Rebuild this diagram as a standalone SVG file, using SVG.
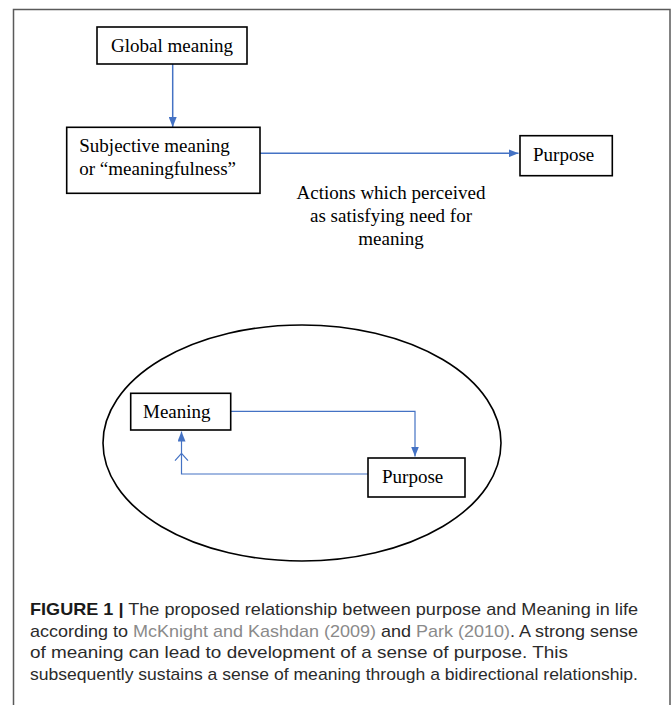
<svg xmlns="http://www.w3.org/2000/svg" width="672" height="705" viewBox="0 0 672 705">
<style>
.box{fill:#fff;stroke:#000;stroke-width:1.6}
.t{font-family:"Liberation Serif","Times New Roman",serif;font-size:19px;fill:#000}
.c{fill:none;stroke:#4472C4;stroke-width:1.5}
.c2{fill:none;stroke:#4472C4;stroke-width:1.2}
.cap{font-family:"Liberation Sans",Arial,sans-serif;font-size:17px;fill:#2b2b2b}
.lnk{fill:#8a8a8a}
</style>
<defs>
<marker id="ah" viewBox="0 0 10 8" refX="10" refY="4" markerWidth="10" markerHeight="8" markerUnits="userSpaceOnUse" orient="auto">
<path d="M0,0 L10,4 L0,8 z" fill="#4472C4"/>
</marker>
</defs>
<rect x="13.5" y="9.5" width="656.5" height="720" fill="#fff" stroke="#5a5a5a" stroke-width="1.5"/>
<g id="connectors">
<line class="c" x1="172.7" y1="64" x2="172.7" y2="127" marker-end="url(#ah)"/>
<line class="c" x1="260" y1="153.3" x2="518.5" y2="153.3" marker-end="url(#ah)"/>
<polyline class="c2" points="231,411.3 415,411.3 415,456.5" marker-end="url(#ah)"/>
<polyline class="c2" points="368,474 181.5,474 181.5,431.5" marker-end="url(#ah)"/>
<polyline class="c2" points="175,460.7 181.5,453.3 188,460.7"/>
</g>
<g id="global">
<rect class="box" x="97" y="27" width="150" height="37"/>
<text class="t" x="172" y="52" text-anchor="middle">Global meaning</text>
</g>
<g id="subjective">
<rect class="box" x="66.7" y="127.3" width="193.3" height="66"/>
<text class="t" x="79.3" y="152.3">Subjective meaning</text>
<text class="t" x="79.3" y="175">or “meaningfulness”</text>
</g>
<g id="purpose">
<rect class="box" x="520" y="135.7" width="92.3" height="40"/>
<text class="t" x="533" y="160.7">Purpose</text>
</g>
<g id="actions-label">
<text class="t" x="391" y="199.3" text-anchor="middle">Actions which perceived</text>
<text class="t" x="391" y="222" text-anchor="middle">as satisfying need for</text>
<text class="t" x="391" y="245" text-anchor="middle">meaning</text>
</g>
<g id="ellipse">
<ellipse cx="302" cy="443" rx="199" ry="118" fill="none" stroke="#000" stroke-width="1.6"/>
</g>
<g id="meaning">
<rect class="box" x="130.7" y="393.3" width="100" height="36.7"/>
<text class="t" x="143" y="418">Meaning</text>
</g>
<g id="purpose2">
<rect class="box" x="368" y="458" width="97" height="39"/>
<text class="t" x="382" y="483">Purpose</text>
</g>
<g id="caption">
<text class="cap" x="30" y="615" textLength="608" lengthAdjust="spacingAndGlyphs"><tspan font-weight="bold" fill="#1a1a1a">FIGURE 1 |</tspan> The proposed relationship between purpose and Meaning in life</text>
<text class="cap" x="30" y="636.5" textLength="608" lengthAdjust="spacingAndGlyphs">according to <tspan class="lnk">McKnight and Kashdan (2009)</tspan> and <tspan class="lnk">Park (2010)</tspan>. A strong sense</text>
<text class="cap" x="30" y="658" textLength="538" lengthAdjust="spacingAndGlyphs">of meaning can lead to development of a sense of purpose. This</text>
<text class="cap" x="30" y="679.5" textLength="608" lengthAdjust="spacingAndGlyphs">subsequently sustains a sense of meaning through a bidirectional relationship.</text>
</g>
</svg>
